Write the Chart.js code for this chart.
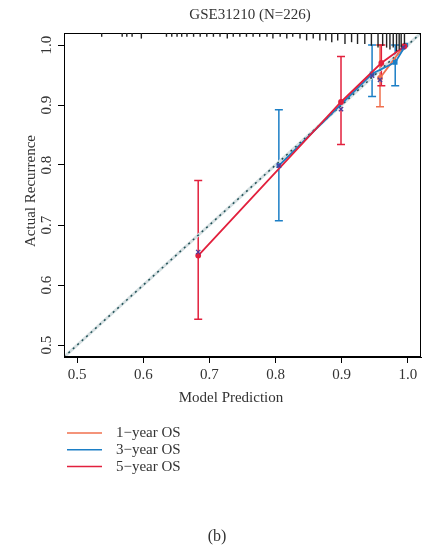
<!DOCTYPE html>
<html>
<head>
<meta charset="utf-8">
<script src="https://cdn.jsdelivr.net/npm/chart.js@4.4.0/dist/chart.umd.min.js"></script>
<style>
  body { margin: 0; background: #fff; }
</style>
</head>
<body>
<canvas id="calib" width="431" height="550"></canvas>
<script>
// axis ticks
var xTicks = [0.5, 0.6, 0.7, 0.8, 0.9, 1.0];
var yTicks = [0.5, 0.6, 0.7, 0.8, 0.9, 1.0];
var axisMin = 0.48, axisMax = 1.02;

var seriesNames = ['1\u2212year OS', '3\u2212year OS', '5\u2212year OS'];

// 1-year OS
var oneYearX  = [0.958, 0.994];
var oneYearY  = [0.945, 0.998];
var oneYearLo = [0.897, null];
var oneYearHi = [1.000, null];

// 3-year OS
var threeYearX  = [0.805, 0.946, 0.981, 0.997];
var threeYearY  = [0.799, 0.952, 0.971, 1.000];
var threeYearLo = [0.707, 0.914, 0.932, null];
var threeYearHi = [0.892, 1.000, 1.000, null];

// 5-year OS
var fiveYearX  = [0.683, 0.899, 0.960, 0.995];
var fiveYearY  = [0.649, 0.905, 0.970, 0.998];
var fiveYearLo = [0.543, 0.834, 0.932, null];
var fiveYearHi = [0.774, 0.981, 1.000, null];

// bias corrected marks (x)
var markX = [0.683, 0.805, 0.899, 0.946, 0.958, 0.993];
var markY = [0.655, 0.799, 0.893, 0.949, 0.942, 0.996];

// distribution of predictions (rug at the top)
var rugX = [0.537, 0.568, 0.575, 0.583, 0.597, 0.635, 0.643, 0.651, 0.658, 0.666,
            0.676, 0.686, 0.696, 0.706, 0.716, 0.727, 0.736, 0.746, 0.756, 0.766,
            0.776, 0.787, 0.796, 0.807, 0.817, 0.826, 0.837, 0.847, 0.857, 0.867,
            0.876, 0.885, 0.894, 0.905, 0.915, 0.924, 0.935, 0.945, 0.955, 0.962,
            0.968, 0.973, 0.978, 0.983, 0.987, 0.990, 0.995];
var rugN = [1, 1, 1, 1, 2, 1, 1, 1, 1, 1,
            1, 1, 1, 1, 1, 2, 1, 1, 1, 1,
            1, 1, 2, 1, 2, 1, 2, 3, 2, 3,
            3, 4, 3, 5, 4, 5, 5, 6, 7, 6,
            7, 8, 7, 9, 8, 7, 5];

var colors = ['#F0704E', '#1C7FC6', '#E2203D'];
var serif = "'Liberation Serif', 'DejaVu Serif', serif";

function pts(xs, ys) {
  return xs.map(function (v, i) { return { x: v, y: ys[i] }; });
}

var series = [
  { x: oneYearX, y: oneYearY, lo: oneYearLo, hi: oneYearHi },
  { x: threeYearX, y: threeYearY, lo: threeYearLo, hi: threeYearHi },
  { x: fiveYearX, y: fiveYearY, lo: fiveYearLo, hi: fiveYearHi }
];

// error bars, rug, box and texts
var calibPlugin = {
  id: 'calibExtras',
  beforeDatasetsDraw: function (chart) {
    var ctx = chart.ctx, xs = chart.scales.x, ys = chart.scales.y;
    ctx.save();
    ctx.lineWidth = 1.5;
    series.forEach(function (s, k) {
      ctx.strokeStyle = colors[k];
      s.x.forEach(function (v, i) {
        if (s.lo[i] == null) return;
        var px = xs.getPixelForValue(v);
        var p1 = ys.getPixelForValue(s.lo[i]);
        var p2 = ys.getPixelForValue(s.hi[i]);
        ctx.beginPath();
        ctx.moveTo(px, p1); ctx.lineTo(px, p2);
        ctx.moveTo(px - 4, p1); ctx.lineTo(px + 4, p1);
        ctx.moveTo(px - 4, p2); ctx.lineTo(px + 4, p2);
        ctx.stroke();
      });
    });
    ctx.restore();
  },
  afterDraw: function (chart) {
    var ctx = chart.ctx, a = chart.chartArea;
    var xs = chart.scales.x, ys = chart.scales.y;
    ctx.save();

    // box
    ctx.strokeStyle = '#000';
    ctx.lineWidth = 1;
    ctx.strokeRect(a.left + 0.5, a.top + 0.5, a.right - a.left - 1, a.bottom - a.top - 1);

    // rug
    ctx.strokeStyle = '#222';
    ctx.lineWidth = 1.4;
    rugX.forEach(function (v, i) {
      var px = xs.getPixelForValue(v);
      ctx.beginPath();
      ctx.moveTo(px, a.top);
      ctx.lineTo(px, a.top + 2 + rugN[i] * 1.8);
      ctx.stroke();
    });

    ctx.fillStyle = '#333';
    ctx.font = '15px ' + serif;
    ctx.textAlign = 'center';
    ctx.textBaseline = 'middle';

    // x tick labels
    xTicks.forEach(function (v) {
      ctx.fillText(v.toFixed(1), xs.getPixelForValue(v), 375);
    });

    // y tick labels, rotated
    yTicks.forEach(function (v) {
      var py = ys.getPixelForValue(v);
      ctx.save();
      ctx.translate(47, py);
      ctx.rotate(-Math.PI / 2);
      ctx.fillText(v.toFixed(1), 0, 0);
      ctx.restore();
    });

    // titles
    ctx.fillText('GSE31210 (N=226)', 250, 15);
    ctx.fillText('Model Prediction', 231, 398);
    ctx.save();
    ctx.translate(31, 191);
    ctx.rotate(-Math.PI / 2);
    ctx.fillText('Actual Recurrence', 0, 0);
    ctx.restore();

    // legend
    ctx.textAlign = 'left';
    seriesNames.forEach(function (name, k) {
      var py = 433 + k * 16.8;
      ctx.strokeStyle = colors[k];
      ctx.lineWidth = 1.5;
      ctx.beginPath();
      ctx.moveTo(67, py); ctx.lineTo(102, py);
      ctx.stroke();
      ctx.fillText(name, 116, py);
    });

    // caption
    ctx.textAlign = 'center';
    ctx.font = '16px ' + serif;
    ctx.fillText('(b)', 217, 537);
    ctx.restore();
  }
};

var datasets = [
  {
    label: 'ideal-bg',
    data: [{ x: axisMin, y: axisMin }, { x: axisMax, y: axisMax }],
    borderColor: '#D6E0E2', borderWidth: 3, pointRadius: 0, order: 10
  },
  {
    label: 'ideal',
    data: [{ x: axisMin, y: axisMin }, { x: axisMax, y: axisMax }],
    borderColor: '#1F4F55', borderWidth: 1.5, borderDash: [2, 4], pointRadius: 0, order: 9
  }
];
series.forEach(function (s, k) {
  datasets.push({
    label: seriesNames[k],
    data: pts(s.x, s.y),
    borderColor: colors[k],
    backgroundColor: colors[k],
    borderWidth: 1.8,
    pointRadius: 2,
    pointStyle: k === 1 ? 'rect' : 'circle',
    order: 8 - k
  });
});
datasets.push({
  label: 'corrected',
  data: pts(markX, markY),
  showLine: false,
  pointStyle: 'crossRot',
  pointRadius: 3,
  borderColor: '#4B3C9C',
  borderWidth: 1.3,
  order: 1
});

var axisCommon = {
  type: 'linear',
  min: axisMin,
  max: axisMax,
  grid: { drawOnChartArea: false, drawTicks: true, tickLength: 6, color: '#000', lineWidth: 1 },
  border: { display: true, color: '#000', width: 1 },
  ticks: { display: false }
};

new Chart(document.getElementById('calib'), {
  type: 'scatter',
  data: { datasets: datasets },
  options: {
    responsive: false,
    animation: false,
    showLine: true,
    layout: { padding: { left: 64, top: 33, right: 10, bottom: 193 } },
    plugins: { legend: { display: false }, tooltip: { enabled: false }, title: { display: false } },
    elements: { line: { tension: 0, fill: false } },
    scales: {
      x: Object.assign({}, axisCommon, {
        position: 'bottom',
        afterBuildTicks: function (scale) { scale.ticks = xTicks.map(function (v) { return { value: v }; }); },
        afterFit: function (scale) { scale.height = 0; }
      }),
      y: Object.assign({}, axisCommon, {
        position: 'left',
        afterBuildTicks: function (scale) { scale.ticks = yTicks.map(function (v) { return { value: v }; }); },
        afterFit: function (scale) { scale.width = 0; }
      })
    }
  },
  plugins: [calibPlugin]
});
</script>
</body>
</html>
